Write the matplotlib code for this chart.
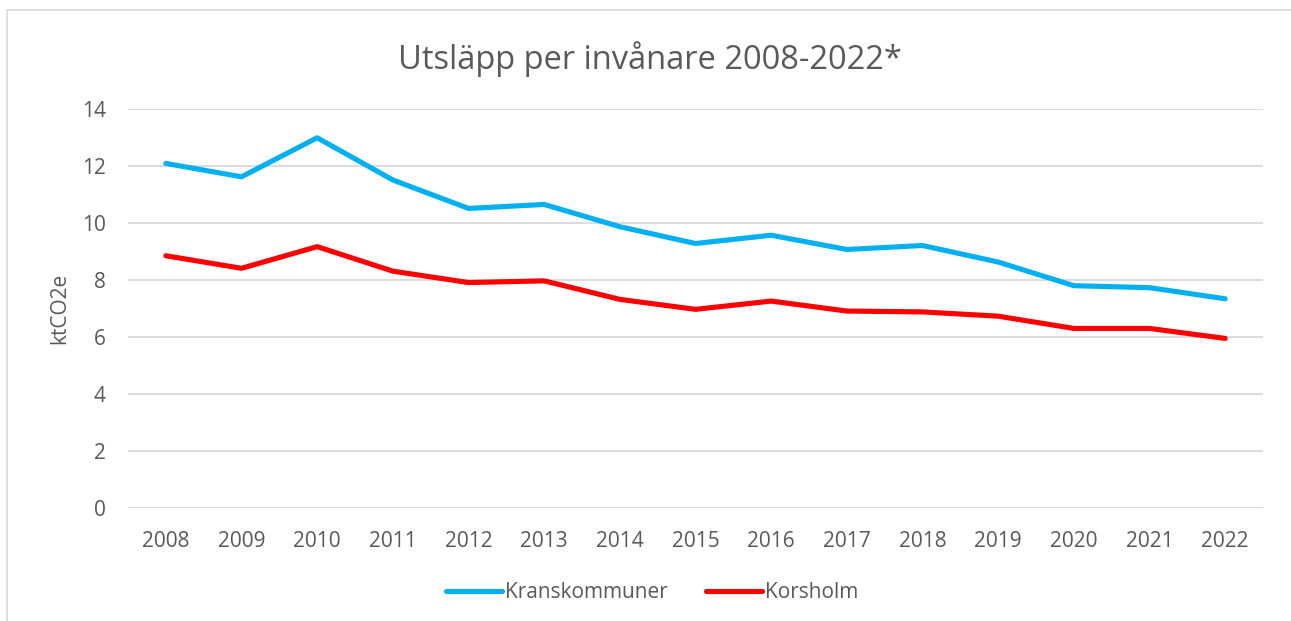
import matplotlib
matplotlib.use("Agg")
import matplotlib.pyplot as plt
from matplotlib.lines import Line2D

years = ["2008", "2009", "2010", "2011", "2012", "2013", "2014", "2015",
         "2016", "2017", "2018", "2019", "2020", "2021", "2022"]
kranskommuner = [12.08, 11.61, 12.98, 11.50, 10.50, 10.64, 9.86, 9.27,
                 9.56, 9.06, 9.20, 8.62, 7.79, 7.72, 7.33]
korsholm = [8.84, 8.40, 9.16, 8.30, 7.90, 7.96, 7.31, 6.96,
            7.25, 6.90, 6.87, 6.72, 6.29, 6.29, 5.94]
yticks = [0, 2, 4, 6, 8, 10, 12, 14]

plt.rcParams['font.family'] = ['Open Sans', 'DejaVu Sans']
txt = '#595959'

W, H = 1291, 621
fig = plt.figure(figsize=(W / 100, H / 100), dpi=100)
ax = fig.add_axes([128 / W, 1 - 507.7 / H, (1263 - 128) / W, (507.7 - 108.7) / H])

x = list(range(len(years)))
ax.plot(x, kranskommuner, color='#00B0F0', lw=3.7, solid_capstyle='round',
        solid_joinstyle='round', label='Kranskommuner', zorder=3)
ax.plot(x, korsholm, color='#FF0000', lw=3.7, solid_capstyle='round',
        solid_joinstyle='round', label='Korsholm', zorder=3)

ax.set_xlim(-0.5, len(years) - 0.5)
ax.set_ylim(0, 14)
ax.set_yticks(yticks)
ax.set_xticks(x)
ax.set_xticklabels(years)
ax.grid(axis='y', color='#D9D9D9', lw=1.3)
ax.set_axisbelow(True)
for s in ax.spines.values():
    s.set_visible(False)
ax.tick_params(length=0, labelsize=15, colors=txt)
ax.tick_params(axis='y', pad=16)
ax.tick_params(axis='x', pad=16.5)
ax.set_ylabel('ktCO2e', fontsize=15, color=txt)
ax.yaxis.set_label_coords((60 - 128) / 1135, 0.5)
ax.yaxis.label.set_va('center')

fig.text(650 / W, 1 - 59 / H, 'Utsläpp per invånare 2008-2022*', ha='center',
         va='center', fontsize=23.5, color=txt)

handles = [Line2D([], [], color='#00B0F0', lw=3.7, solid_capstyle='round'),
           Line2D([], [], color='#FF0000', lw=3.7, solid_capstyle='round')]
fig.legend(handles, ['Kranskommuner', 'Korsholm'], loc='center',
           bbox_to_anchor=(652 / W, 1 - 593 / H), ncol=2, frameon=False,
           fontsize=15, labelcolor=txt, handlelength=2.7, handletextpad=0.15,
           columnspacing=1.8)

# chart frame (left and top)
fig.add_artist(Line2D([7 / W, 7 / W], [0, 1 - 10 / H], transform=fig.transFigure,
                      color='#D9D9D9', lw=1.2))
fig.add_artist(Line2D([7 / W, 1], [1 - 10 / H, 1 - 10 / H], transform=fig.transFigure,
                      color='#D9D9D9', lw=1.2))

fig.savefig('out.png', dpi=100, facecolor='white')
